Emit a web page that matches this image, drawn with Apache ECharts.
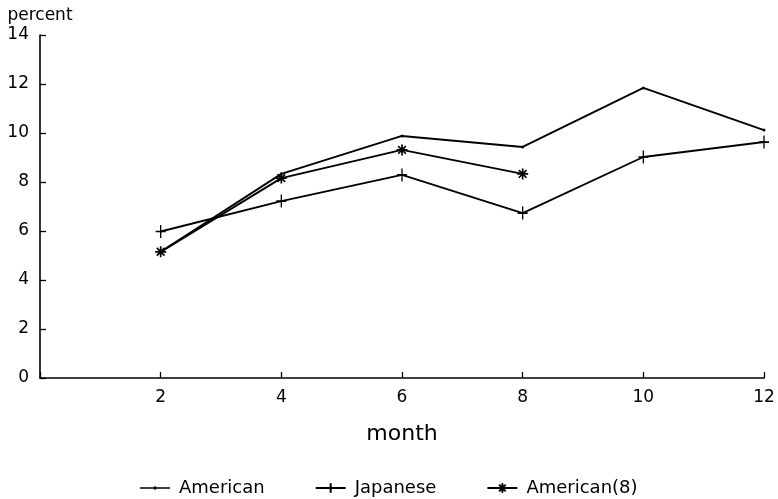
<!DOCTYPE html>
<html>
<head>
<meta charset="utf-8">
<script src="https://cdn.jsdelivr.net/npm/echarts@6/dist/echarts.min.js"></script>
<style>
  html, body { margin: 0; padding: 0; background: #fff; }
  #chart { width: 778px; height: 499px; }
</style>
</head>
<body>
<div id="chart"></div>
<script>
// Months on the horizontal axis
const months = [2, 4, 6, 8, 10, 12];
// Percent values per series
const american = [5.15, 8.33, 9.88, 9.43, 11.84, 10.12];
const japanese = [5.98, 7.22, 8.29, 6.73, 9.02, 9.63];
const american8 = [5.15, 8.16, 9.31, 8.33];
const yTicks = [0, 2, 4, 6, 8, 10, 12, 14];

const pairs = (vals) => vals.map((v, i) => [months[i], v]);

const FONT = 'DejaVu Sans';
const plusPath = 'path://M0,-1L0,1M-1,0L1,0';
const starPath = 'path://M0,-1L0,1M-1,0L1,0M-0.7,-0.7L0.7,0.7M-0.7,0.7L0.7,-0.7';
// legend key for the plain series: a short rule with a small dot in the middle
const dotLineIcon = 'path://M0,5.2L30,5.2L30,6.8L0,6.8Z M13.8,4.6L16.2,4.6L16.2,7.4L13.8,7.4Z';

const lineStyle = { color: '#000', width: 1.9 };
const labelFont = { fontFamily: FONT, fontSize: 17, color: '#000' };

const chart = echarts.init(document.getElementById('chart'));
chart.setOption({
  animation: false,
  backgroundColor: '#fff',
  grid: { left: 40, right: 14, top: 35, bottom: 121, containLabel: false },
  xAxis: {
    type: 'value', min: 0, max: 12, interval: 2,
    name: 'month', nameLocation: 'middle', nameGap: 45,
    nameTextStyle: { fontFamily: FONT, fontSize: 22, color: '#000' },
    axisLine: { show: true, lineStyle: { color: '#000', width: 1.6 } },
    axisTick: { show: true, inside: true, length: 6, lineStyle: { color: '#000', width: 1.3 } },
    axisLabel: Object.assign({ margin: 11, formatter: (v) => (v === 0 ? '' : String(v)) }, labelFont),
    splitLine: { show: false }
  },
  yAxis: {
    type: 'value', min: yTicks[0], max: yTicks[yTicks.length - 1], interval: 2,
    name: 'percent', nameLocation: 'end', nameGap: 11,
    nameTextStyle: { fontFamily: FONT, fontSize: 17, color: '#000', align: 'center' },
    axisLine: { show: true, lineStyle: { color: '#000', width: 1.6 } },
    axisTick: { show: true, inside: true, length: 6, lineStyle: { color: '#000', width: 1.3 } },
    axisLabel: Object.assign({ margin: 11 }, labelFont),
    splitLine: { show: false }
  },
  legend: {
    top: 474, left: 135, itemGap: 50, itemWidth: 30, itemHeight: 12,
    textStyle: { fontFamily: FONT, fontSize: 18, color: '#000', padding: [0, 0, 0, 4] },
    data: [
      { name: 'American', icon: dotLineIcon },
      { name: 'Japanese' },
      { name: 'American(8)' }
    ]
  },
  series: [
    {
      name: 'American', type: 'line', data: pairs(american),
      symbol: 'circle', symbolSize: 3, showSymbol: true,
      lineStyle: lineStyle, itemStyle: { color: '#000' }
    },
    {
      name: 'Japanese', type: 'line', data: pairs(japanese),
      symbol: plusPath, symbolSize: [10, 13],
      lineStyle: lineStyle,
      itemStyle: { color: '#000', borderColor: '#000', borderWidth: 1.5 }
    },
    {
      name: 'American(8)', type: 'line', data: pairs(american8),
      symbol: starPath, symbolSize: 11,
      lineStyle: lineStyle,
      itemStyle: { color: '#000', borderColor: '#000', borderWidth: 1.7 }
    }
  ]
});
</script>
</body>
</html>
